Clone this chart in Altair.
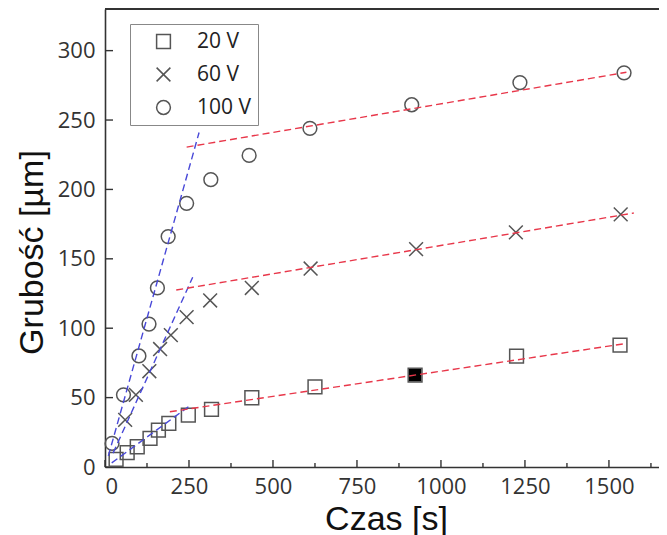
import altair as alt
import pandas as pd

# ---- data ----
series_names = ["20 V", "60 V", "100 V"]

t20 = [33, 66, 96, 134, 159, 190, 248, 317, 437, 625, 923, 1225, 1533]
g20 = [5.5, 10.3, 14.6, 20.6, 26.6, 31.4, 37.4, 41.5, 49.9, 57.8, 66.2, 79.9, 87.8]
filled20 = [False] * 10 + [True] + [False] * 2

t60 = [60, 92, 132, 164, 196, 243, 313, 437, 612, 926, 1223, 1535]
g60 = [34, 52, 69, 85, 95, 108, 120, 129, 143, 157, 169, 182]

t100 = [21, 55, 101, 131, 156, 188, 243, 315, 429, 610, 913, 1235, 1545]
g100 = [17, 52, 80, 103, 129, 166, 190, 207, 224.5, 244, 261, 277, 284]

fit_series = ["20 V", "60 V", "100 V", "20 V", "60 V", "100 V"]
fit_kind = ["initial", "initial", "initial", "long", "long", "long"]
fit_t0 = [20, 24, 10, 193, 212, 243]
fit_g0 = [3, 10, 8, 39.8, 127.5, 230.5]
fit_t1 = [255, 261, 280, 1552, 1574, 1552]
fit_g1 = [44.6, 136.7, 241, 89, 183, 284.4]

x_major = [0, 250, 500, 750, 1000, 1250, 1500]
x_minor = [125, 375, 625, 875, 1125, 1375, 1625]
y_major = [0, 50, 100, 150, 200, 250, 300]

X_MAX = 1649
Y_MAX = 330
W, H = 554, 458

# ---- frames ----
pts = pd.DataFrame({
    "t": t20 + t60 + t100,
    "g": g20 + g60 + g100,
    "series": ["20 V"] * len(t20) + ["60 V"] * len(t60) + ["100 V"] * len(t100),
    "filled": filled20 + [False] * (len(t60) + len(t100)),
})
fits = pd.DataFrame({"series": fit_series, "kind": fit_kind,
                     "t0": fit_t0, "g0": fit_g0, "t1": fit_t1, "g1": fit_g1})
xmaj = pd.DataFrame({"v": x_major})
xmin = pd.DataFrame({"v": x_minor})
ymaj = pd.DataFrame({"v": y_major})
one = pd.DataFrame({"k": [0]})

X_PATH = "M-1,-1L1,1M-1,1L1,-1"

xs = alt.Scale(domain=[0, X_MAX], nice=False, zero=False)
ys = alt.Scale(domain=[0, Y_MAX], nice=False, zero=False)

xaxis = alt.Axis(values=x_major, format="d", ticks=False, grid=False, domainColor="#333", domainWidth=1.6,
                 labelFont="Open Sans", labelFontSize=22, labelColor="#333", labelPadding=9,
                 title="Czas [s]", titleFont="Liberation Sans", titleFontSize=34,
                 titleFontWeight="normal", titleColor="#111", titleX=281, titleY=62,
                 titleBaseline="alphabetic", titleAnchor="start", titleAlign="center")
yaxis = alt.Axis(values=y_major, format="d", ticks=False, grid=False, domainColor="#333", domainWidth=1.6,
                 labelFont="Open Sans", labelFontSize=22, labelColor="#333", labelPadding=10,
                 title="Grubość [µm]", titleFont="Liberation Sans", titleFontSize=34,
                 titleFontWeight="normal", titleColor="#111", titleX=-73, titleY=243,
                 titleAngle=270, titleBaseline="middle", titleAlign="center", titleAnchor="start")

points = alt.Chart(pts).mark_point(filled=False, color="#555", strokeWidth=1.5, size=190, opacity=1).encode(
    x=alt.X("t:Q", scale=xs, axis=xaxis),
    y=alt.Y("g:Q", scale=ys, axis=yaxis),
    shape=alt.Shape("series:N", scale=alt.Scale(domain=series_names, range=["square", X_PATH, "circle"]),
                    legend=alt.Legend(title=None, orient="none", legendX=25, legendY=15,
                                      strokeColor="#888", padding=7, symbolOffset=16, labelOffset=23,
                                      symbolSize=190, symbolStrokeColor="#555", symbolFillColor="transparent",
                                      symbolStrokeWidth=1.5, labelFont="Open Sans", labelFontSize=21,
                                      labelColor="#222", rowPadding=11, fillColor="white")),
)

filled_pts = alt.Chart(pts).transform_filter("datum.filled").mark_square(color="black", size=150, opacity=1).encode(
    x=alt.X("t:Q", scale=xs), y=alt.Y("g:Q", scale=ys)
)

lines = alt.Chart(fits).mark_rule(strokeDash=[7, 4], strokeWidth=1.4).encode(
    x=alt.X("t0:Q", scale=xs), y=alt.Y("g0:Q", scale=ys),
    x2="t1:Q", y2="g1:Q",
    color=alt.Color("kind:N", scale=alt.Scale(domain=["initial", "long"], range=["#4848d8", "#e8374a"]),
                    legend=None),
)

xt_major = alt.Chart(xmaj).mark_rule(color="#333", strokeWidth=1.4).encode(
    x=alt.X("v:Q", scale=xs), y=alt.value(H), y2=alt.value(H - 7))
xt_minor = alt.Chart(xmin).mark_rule(color="#333", strokeWidth=1.4).encode(
    x=alt.X("v:Q", scale=xs), y=alt.value(H), y2=alt.value(H - 4))
yt_major = alt.Chart(ymaj).mark_rule(color="#333", strokeWidth=1.4).encode(
    y=alt.Y("v:Q", scale=ys), x=alt.value(0), x2=alt.value(8))
top = alt.Chart(one).mark_rule(color="#333", strokeWidth=2).encode(
    x=alt.value(0), x2=alt.value(W), y=alt.value(0))

chart = alt.layer(top, xt_major, xt_minor, yt_major, points, filled_pts, lines).properties(
    width=W, height=H,
    padding={"left": 97, "top": 1, "right": 0, "bottom": 68},
    autosize=alt.AutoSizeParams(type="none"),
).configure_view(stroke=None).configure(background="white")

chart.save("out.html", embed_options={"renderer": "svg", "actions": False})
